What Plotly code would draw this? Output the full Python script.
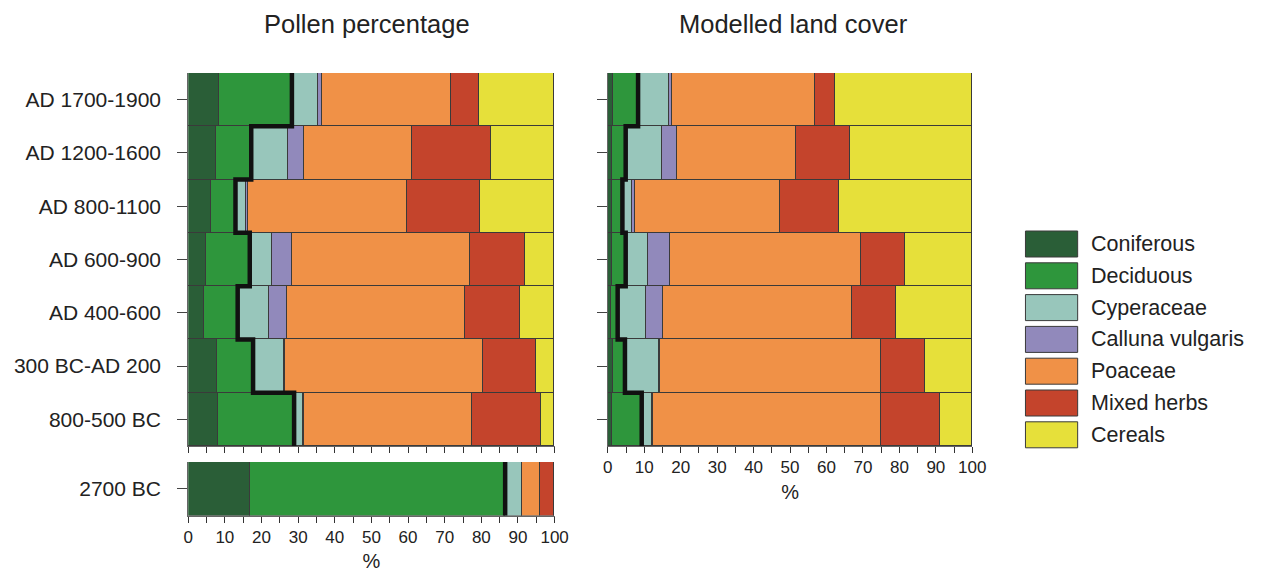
import numpy as np
import plotly.graph_objects as go

W, H = 1267, 574

categories = ["Coniferous", "Deciduous", "Cyperaceae", "Calluna vulgaris",
              "Poaceae", "Mixed herbs", "Cereals"]
colors = ["#2a5e37", "#2e963c", "#98c6bb", "#9189bb", "#f09147", "#c4442c", "#e6e03a"]

periods = ["AD 1700-1900", "AD 1200-1600", "AD 800-1100", "AD 600-900",
           "AD 400-600", "300 BC-AD 200", "800-500 BC"]
early_period = ["2700 BC"]

# Pollen percentages per period, one list per taxon group (top row first)
pollen = {
    "Coniferous":       [8.4, 7.7, 6.4, 4.9, 4.4, 8.0, 8.2],
    "Deciduous":        [19.9, 9.5, 6.5, 11.9, 9.1, 9.7, 20.7],
    "Cyperaceae":       [7.3, 10.1, 3.0, 6.0, 8.6, 8.6, 2.5],
    "Calluna vulgaris": [0.9, 4.3, 0.4, 5.7, 4.9, 0.2, 0.2],
    "Poaceae":          [35.4, 29.6, 43.4, 48.5, 48.7, 54.1, 45.9],
    "Mixed herbs":      [7.4, 21.5, 20.0, 14.9, 15.0, 14.3, 18.8],
    "Cereals":          [20.7, 17.3, 20.3, 8.1, 9.3, 5.1, 3.7],
}
pollen_early = {
    "Coniferous": [16.9], "Deciduous": [69.6], "Cyperaceae": [4.6],
    "Calluna vulgaris": [0.0], "Poaceae": [5.0], "Mixed herbs": [3.9], "Cereals": [0.0],
}
# Modelled land cover per period
landcover = {
    "Coniferous":       [1.4, 1.2, 1.1, 1.1, 0.9, 1.5, 1.2],
    "Deciduous":        [6.9, 3.7, 2.9, 3.8, 1.8, 3.2, 8.1],
    "Cyperaceae":       [8.5, 9.9, 2.7, 6.2, 7.8, 9.4, 2.8],
    "Calluna vulgaris": [0.7, 4.0, 0.7, 5.8, 4.6, 0.2, 0.2],
    "Poaceae":          [39.4, 32.8, 39.9, 52.6, 51.9, 60.7, 62.7],
    "Mixed herbs":      [5.4, 14.8, 16.1, 12.1, 11.9, 11.9, 16.1],
    "Cereals":          [37.7, 33.6, 36.6, 18.4, 21.1, 13.1, 8.9],
}

FONT = "Arial, Liberation Sans, sans-serif"
OUTLINE = "#3a3a3a"
TEXT = "#222222"

def px_x(p):
    return p / W

def px_y(p):
    return 1 - p / H

fig = go.Figure()

def add_stack(data, xa, ya, n):
    pos = list(range(n))
    for cat, col in zip(categories, colors):
        fig.add_trace(go.Bar(
            x=data[cat], y=pos, orientation="h", width=1,
            marker=dict(color=col, line=dict(color=OUTLINE, width=1)),
            xaxis=xa, yaxis=ya, showlegend=False, name=cat,
            hovertemplate=cat + ": %{x}%<extra></extra>",
        ))

def add_forest_line(data, xa, ya, n):
    # total tree cover (coniferous + deciduous) drawn as a stepped outline
    forest = np.array(data["Coniferous"]) + np.array(data["Deciduous"])
    xs, ys = [], []
    for i, f in enumerate(forest):
        xs += [f, f]
        ys += [i - 0.55 if i == 0 else i - 0.5, i + 0.55 if i == n - 1 else i + 0.5]
    fig.add_trace(go.Scatter(
        x=xs, y=ys, mode="lines", line=dict(color="#111111", width=4.5),
        xaxis=xa, yaxis=ya, showlegend=False, hoverinfo="skip",
    ))

add_stack(pollen, "x", "y", len(periods))
add_forest_line(pollen, "x", "y", len(periods))
add_stack(pollen_early, "x2", "y2", 1)
add_forest_line(pollen_early, "x2", "y2", 1)
add_stack(landcover, "x3", "y3", len(periods))
add_forest_line(landcover, "x3", "y3", len(periods))

tickfont = dict(family=FONT, size=17, color=TEXT)
labfont = dict(family=FONT, size=21, color=TEXT)

def xaxis(domain, anchor, labels, title=None):
    d = dict(
        domain=domain, anchor=anchor, range=[0, 100], showgrid=False, zeroline=False,
        showline=True, linecolor="#666666", linewidth=1, mirror=False,
        ticks="outside", ticklen=6, tickcolor="#333333", tickwidth=1,
        tickvals=list(range(0, 101, 10)), showticklabels=labels, tickfont=tickfont,
        minor=dict(tickvals=list(range(5, 100, 10)), ticks="outside", ticklen=6,
                   tickcolor="#333333", tickwidth=1),
    )
    if title:
        d["title"] = dict(text=title, font=dict(family=FONT, size=20, color=TEXT),
                          standoff=8)
    return d

def yaxis(domain, anchor, labels, n):
    return dict(
        domain=domain, anchor=anchor, range=[n - 0.5, -0.5], showgrid=False,
        zeroline=False, showline=True, linecolor="#666666", linewidth=1,
        ticks="outside", ticklen=10, tickcolor="#444444", tickwidth=1,
        tickvals=list(range(n)), ticktext=labels if labels else [""] * n,
        tickfont=labfont, ticklabelstandoff=12,
    )

left = [px_x(186), px_x(558)]
right = [px_x(612), px_x(982)]
main_y = [px_y(446), px_y(73)]
early_y = [px_y(515.5), px_y(462)]

fig.update_layout(
    width=W, height=H, margin=dict(l=0, r=0, t=0, b=0),
    paper_bgcolor="white", plot_bgcolor="white", barmode="stack", bargap=0,
    font=dict(family=FONT, color=TEXT),
    xaxis=xaxis(left, "y", False),
    yaxis=yaxis(main_y, "x", periods, len(periods)),
    xaxis2=xaxis(left, "y2", True, "%"),
    yaxis2=yaxis(early_y, "x2", early_period, 1),
    xaxis3=xaxis(right, "y3", True, "%"),
    yaxis3=yaxis(main_y, "x3", None, len(periods)),
    showlegend=False,
)

annotations = [
    dict(text="Pollen percentage", x=px_x(368), y=px_y(24), xref="paper", yref="paper",
         xanchor="center", yanchor="middle", showarrow=False,
         font=dict(family=FONT, size=25.5, color=TEXT)),
    dict(text="Modelled land cover", x=px_x(800), y=px_y(24), xref="paper", yref="paper",
         xanchor="center", yanchor="middle", showarrow=False,
         font=dict(family=FONT, size=25.5, color=TEXT)),
]

# Legend: large swatches with labels
shapes = []
for i, (cat, col) in enumerate(zip(categories, colors)):
    cy = 244 + 31.8 * i
    shapes.append(dict(type="rect", xref="paper", yref="paper",
                       x0=px_x(1036), x1=px_x(1089), y0=px_y(cy + 13), y1=px_y(cy - 13),
                       fillcolor=col, line=dict(color=OUTLINE, width=1)))
    annotations.append(dict(text=cat, x=px_x(1101), y=px_y(cy), xref="paper", yref="paper",
                            xanchor="left", yanchor="middle", showarrow=False,
                            font=dict(family=FONT, size=21.5, color=TEXT)))

fig.update_layout(annotations=annotations, shapes=shapes)

fig.write_html(
    "out.html",
    post_script="document.body.style.margin='0';"
                "document.documentElement.style.overflow='hidden';",
)
